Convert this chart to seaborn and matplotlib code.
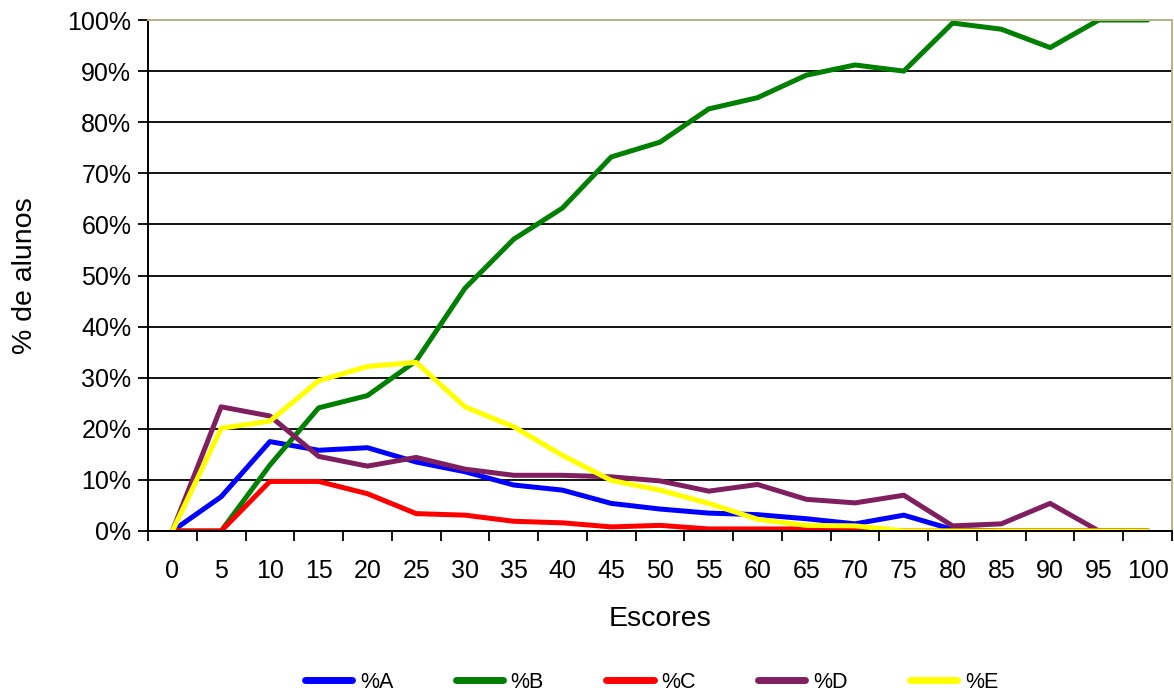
import numpy as np
import pandas as pd
import matplotlib
matplotlib.use("Agg")
import matplotlib.pyplot as plt
import seaborn as sns
from matplotlib.ticker import FixedLocator, PercentFormatter

# ── Data ──────────────────────────────────────────────────────────────────────
escores = [0, 5, 10, 15, 20, 25, 30, 35, 40, 45, 50,
           55, 60, 65, 70, 75, 80, 85, 90, 95, 100]

pct_a = [0, 6.7, 17.5, 15.8, 16.3, 13.5, 11.6, 9.0, 8.0, 5.4, 4.3,
         3.5, 3.2, 2.4, 1.4, 3.1, 0.3, 0, 0, 0, 0]
pct_b = [0, 0, 12.9, 24.1, 26.5, 33.3, 47.5, 57.1, 63.2, 73.2, 76.1,
         82.6, 84.8, 89.2, 91.2, 90.0, 99.4, 98.2, 94.6, 100, 100]
pct_c = [0, 0, 9.7, 9.7, 7.3, 3.4, 3.1, 1.9, 1.6, 0.8, 1.1,
         0.4, 0.4, 0.4, 0.3, 0, 0, 0, 0, 0, 0]
pct_d = [0, 24.3, 22.5, 14.6, 12.7, 14.4, 12.1, 10.9, 10.9, 10.6, 9.8,
         7.8, 9.1, 6.2, 5.5, 7.0, 1.0, 1.4, 5.4, 0, 0]
pct_e = [0, 20.1, 21.5, 29.4, 32.2, 33.0, 24.3, 20.4, 14.8, 9.9, 8.0,
         5.4, 2.3, 1.1, 1.0, 0, 0, 0, 0, 0, 0]

series_names = ["%A", "%B", "%C", "%D", "%E"]
colors = ["#0000FF", "#008000", "#FF0000", "#7F1F5F", "#FFFF00"]

# ── Long-form table ───────────────────────────────────────────────────────────
pos = np.arange(len(escores))
df = pd.concat([
    pd.DataFrame({"pos": pos, "valor": vals, "serie": name})
    for name, vals in zip(series_names, [pct_a, pct_b, pct_c, pct_d, pct_e])
], ignore_index=True)

# ── Plot ──────────────────────────────────────────────────────────────────────
sns.set_style("white")
plt.rcParams["font.family"] = ["Liberation Sans", "DejaVu Sans"]
plt.rcParams.update({"text.color": "black", "axes.labelcolor": "black",
                     "xtick.color": "black", "ytick.color": "black"})

fig = plt.figure(figsize=(11.74, 6.98), dpi=100)
ax = fig.add_axes([148 / 1174, 1 - 531 / 698, 1024 / 1174, 511 / 698])

sns.lineplot(data=df, x="pos", y="valor", hue="serie", hue_order=series_names,
             palette=colors, linewidth=3.6, ax=ax, legend=True)

ax.set_xlim(-0.5, len(escores) - 0.5)
ax.set_ylim(0, 100)

# y axis: black grid lines, outward ticks
ax.set_yticks(np.arange(0, 101, 10))
ax.yaxis.set_major_formatter(PercentFormatter(decimals=0))
ax.grid(axis="y", color="black", linewidth=1.3)
ax.grid(axis="x", visible=False)
ax.tick_params(axis="y", which="major", direction="out", length=7, width=1.3,
               color="black", labelcolor="black", labelsize=18, pad=5, left=True)

# x axis: labels centred on categories, tick marks between categories
ax.set_xticks(pos)
ax.set_xticklabels([str(v) for v in escores])
ax.xaxis.set_minor_locator(FixedLocator(np.arange(-0.5, len(escores), 1.0)))
ax.tick_params(axis="x", which="major", length=0, labelsize=18, pad=20,
               labelcolor="black")
ax.tick_params(axis="x", which="minor", direction="out", length=7, width=1.3,
               color="black", bottom=True)

for side in ["left", "bottom"]:
    ax.spines[side].set_color("black")
    ax.spines[side].set_linewidth(1.4)
for side in ["top", "right"]:
    ax.spines[side].set_visible(True)
    ax.spines[side].set_color("#B8B48A")
    ax.spines[side].set_linewidth(1.4)

ax.set_xlabel("Escores", fontsize=20.5, labelpad=17, color="black")
ax.set_ylabel("% de alunos", fontsize=20.5, labelpad=21, color="black")

handles, labels = ax.get_legend_handles_labels()
ax.legend_.remove()
for h in handles:
    h.set_linewidth(5)
leg = fig.legend(handles, labels, loc="center", bbox_to_anchor=(0.555, 16 / 698),
                 ncol=5, frameon=False, fontsize=15.5, handlelength=2.2,
                 handletextpad=0.35, columnspacing=2.9)
for t in leg.get_texts():
    t.set_color("black")

fig.savefig("out.png", dpi=100)
